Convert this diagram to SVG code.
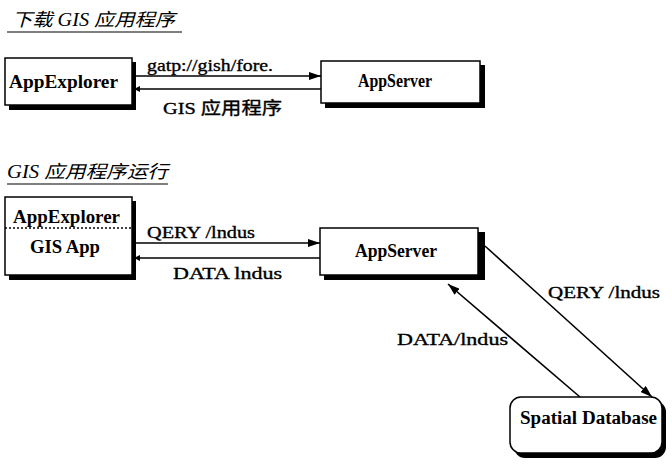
<svg xmlns="http://www.w3.org/2000/svg" width="672" height="465" viewBox="0 0 672 465">
<defs>
<style>
text{font-family:"Liberation Serif","Noto Sans CJK SC",serif;fill:#000}
.t{font-size:18px;font-style:italic}
.n{font-size:18px;font-weight:bold}
.l{font-size:17px;stroke:#000;stroke-width:0.35}
.box{fill:#fff;stroke:#000;stroke-width:1.5}
.sh{fill:#000}
.ln{stroke:#000;stroke-width:1.6;fill:none}
</style>
<marker id="ah" viewBox="0 0 12 8" refX="12" refY="4" markerWidth="12" markerHeight="8" markerUnits="userSpaceOnUse" orient="auto">
<path d="M0,0 L12,4 L0,8 Z" fill="#000"/>
</marker>
<marker id="ahs" viewBox="0 0 6 6" refX="6" refY="3" markerWidth="6" markerHeight="6" markerUnits="userSpaceOnUse" orient="auto">
<path d="M0,0 L6,3 L0,6 Z" fill="#000"/>
</marker>
</defs>
<rect width="672" height="465" fill="#fff"/>
<g id="title1">
<text class="t" x="12" y="26" textLength="163" lengthAdjust="spacingAndGlyphs">下载 GIS 应用程序</text>
<line x1="7" y1="32" x2="182" y2="32" stroke="#000" stroke-width="1.2"/>
</g>
<g id="title2">
<text class="t" x="7" y="178" textLength="161" lengthAdjust="spacingAndGlyphs">GIS 应用程序运行</text>
<line x1="7" y1="184" x2="168" y2="184" stroke="#000" stroke-width="1.2"/>
</g>
<g id="explorer1">
<rect class="sh" x="9" y="62" width="127" height="48"/>
<rect class="box" x="5" y="58" width="127" height="47"/>
<text class="n" x="9" y="88" textLength="109" lengthAdjust="spacingAndGlyphs">AppExplorer</text>
</g>
<g id="server1">
<rect class="sh" x="325" y="65" width="160" height="43"/>
<rect class="box" x="321" y="61" width="159" height="42"/>
<text class="n" x="358" y="87" textLength="74" lengthAdjust="spacingAndGlyphs">AppServer</text>
</g>
<g id="explorer2">
<rect class="sh" x="9" y="201" width="127" height="79"/>
<rect class="box" x="5" y="197" width="127" height="78"/>
<line x1="5" y1="228" x2="132" y2="228" stroke="#000" stroke-width="1.5" stroke-dasharray="2,2"/>
<text class="n" x="13" y="223" textLength="107" lengthAdjust="spacingAndGlyphs">AppExplorer</text>
<text class="n" x="30" y="253" textLength="70" lengthAdjust="spacingAndGlyphs">GIS App</text>
</g>
<g id="server2">
<rect class="sh" x="324" y="232" width="161" height="48"/>
<rect class="box" x="320" y="228" width="158" height="47"/>
<text class="n" x="355" y="257" textLength="82" lengthAdjust="spacingAndGlyphs">AppServer</text>
</g>
<g id="spatialdb">
<rect class="sh" x="514" y="401" width="152" height="57" rx="11"/>
<rect class="box" x="510" y="397" width="152" height="56" rx="11"/>
<text class="n" x="520" y="424" textLength="137" lengthAdjust="spacingAndGlyphs">Spatial Database</text>
</g>
<g id="connectors">
<line class="ln" x1="136" y1="76" x2="321" y2="76" marker-end="url(#ah)"/>
<line class="ln" x1="321" y1="89" x2="134" y2="89" marker-end="url(#ahs)"/>
<line class="ln" x1="136" y1="243" x2="320" y2="243" marker-end="url(#ah)"/>
<line class="ln" x1="320" y1="258" x2="134" y2="258" marker-end="url(#ahs)"/>
<line class="ln" x1="485" y1="246" x2="652" y2="397" marker-end="url(#ah)"/>
<line class="ln" x1="580" y1="397" x2="448" y2="284" marker-end="url(#ah)"/>
<text class="l" x="147" y="71" textLength="126" lengthAdjust="spacingAndGlyphs">gatp://gish/fore.</text>
<text class="l" x="163" y="114" textLength="119" lengthAdjust="spacingAndGlyphs">GIS 应用程序</text>
<text class="l" x="147" y="238" textLength="108" lengthAdjust="spacingAndGlyphs">QERY /lndus</text>
<text class="l" x="173" y="279" textLength="109" lengthAdjust="spacingAndGlyphs">DATA  lndus</text>
<text class="l" x="548" y="298" textLength="112" lengthAdjust="spacingAndGlyphs">QERY /lndus</text>
<text class="l" x="397" y="345" textLength="111" lengthAdjust="spacingAndGlyphs">DATA/lndus</text>
</g>
</svg>
